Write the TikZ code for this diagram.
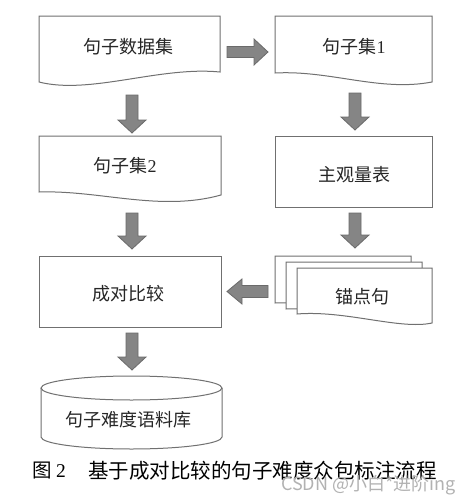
\documentclass[tikz,border=0pt]{standalone}
\usepackage{fontspec}
\setmainfont{Noto Sans CJK SC}
\newfontfamily\latinserif{Liberation Serif}
\usetikzlibrary{calc}
\definecolor{boxline}{HTML}{707070}
\definecolor{arrfill}{HTML}{858585}
\definecolor{arrline}{HTML}{6A6A6A}
\definecolor{txt}{HTML}{262626}
\tikzset{
  shapebox/.style={draw=boxline, line width=1pt, fill=white, line join=miter},
  label/.style={text=txt, font=\fontsize{18}{20}\selectfont, inner sep=0pt},
  barrow/.style={draw=arrline, fill=arrfill, line width=0.8pt, line join=miter},
}
% down arrow: cx, top, tip
\newcommand\downarr[3]{\draw[barrow] (#1-6,#2) -- (#1+6,#2) -- (#1+6,#3-13) -- (#1+14,#3-13) -- (#1,#3) -- (#1-14,#3-13) -- (#1-6,#3-13) -- cycle;}
\begin{document}
\begin{tikzpicture}[x=1pt,y=-1pt]
\useasboundingbox (0,0) rectangle (472,501);
\fill[white] (0,0) rectangle (472,501);

% box 1: 句子数据集
\draw[shapebox] (39,16) -- (220,16) -- (220,72) .. controls (160,66) and (90,95) .. (39,82) -- cycle;
\node[label] (b1) at (128,47) {句子数据集};

% box 2: 句子集1
\draw[shapebox] (275,16) -- (432,16) -- (432,82) .. controls (380,92) and (330,70) .. (275,73) -- cycle;
\node[label] (b2) at (354,47) {句子集{\latinserif 1}};

% box 3: 句子集2
\draw[shapebox] (39,136) -- (221,136) -- (221,195) .. controls (160,212) and (100,190) .. (39,192) -- cycle;
\node[label] (b3) at (125,166) {句子集{\latinserif 2}};

% 主观量表
\draw[shapebox] (275,136) rectangle (432,207);
\node[label] (b4) at (354,175) {主观量表};

% 成对比较
\draw[shapebox] (39,256) rectangle (221,327);
\node[label] (b5) at (128,294) {成对比较};

% 锚点句 stack
\draw[shapebox] (275,256) -- (411,256) -- (411,300) -- (275,303) -- cycle;
\draw[shapebox] (286,262) -- (422,262) -- (422,306) -- (286,309) -- cycle;
\draw[shapebox] (297,268) -- (432,268) -- (432,323) .. controls (400,330) and (345,310) .. (297,314) -- cycle;
\node[label] (b6) at (362,297) {锚点句};

% cylinder
\draw[shapebox] (41,388) -- (41,437) arc[start angle=180, end angle=360, x radius=90.5, y radius=-12] -- (222,388);
\draw[shapebox] (131.5,388) ellipse[x radius=90.5, y radius=12];
\node[label] (b7) at (128,420) {句子难度语料库};

% arrows
\draw[barrow] (227,46.5) -- (254,46.5) -- (254,39) -- (268,52) -- (254,65) -- (254,57.5) -- (227,57.5) -- cycle;
\downarr{132}{95}{133}
\downarr{355}{93}{130}
\downarr{132}{213}{249}
\downarr{355}{213}{248}
\downarr{132}{333}{370}
\draw[barrow] (268,285.5) -- (242,285.5) -- (242,279) -- (227,291.5) -- (242,304) -- (242,297.5) -- (268,297.5) -- cycle;

% caption
\node[anchor=west, inner sep=0pt, font=\fontsize{19.5}{20}\selectfont] (cap1) at (32,471) {图 {\latinserif 2}};
\node[anchor=west, inner sep=0pt, font=\fontsize{20.5}{22}\selectfont] (cap2) at (88,471) {基于成对比较的句子难度众包标注流程};
\node[anchor=east, inner sep=0pt, text=black!30, font=\fontsize{18}{20}\selectfont] (wm) at (456,485) {CSDN @小白*进阶ing};
\end{tikzpicture}
\end{document}
